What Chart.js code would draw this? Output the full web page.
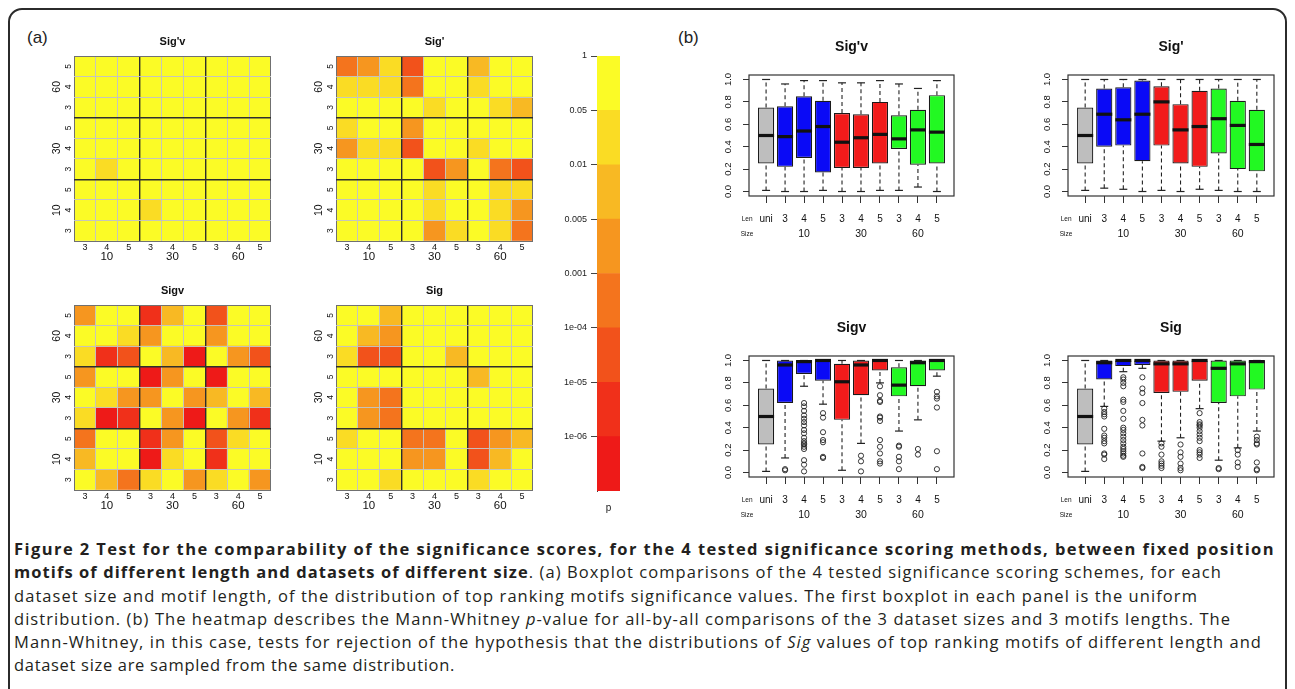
<!DOCTYPE html>
<html>
<head>
<meta charset="utf-8">
<title>Figure 2</title>
<script src="https://cdn.jsdelivr.net/npm/chart.js@4.4.1/dist/chart.umd.min.js"></script>
<style>
  html, body { margin: 0; padding: 0; background: #fff; }
  #page { position: relative; width: 1295px; height: 689px; overflow: hidden; background: #fff; }
  #border { position: absolute; left: 8px; top: 8px; width: 1279px; height: 740px; box-sizing: border-box;
            border: 2px solid #2b2b2b; border-radius: 14px; }
  canvas { position: absolute; }
  .tag { position: absolute; font: 17px 'Liberation Sans', Arial, sans-serif; line-height: 17px; color: #222; }
  #caption { position: absolute; left: 14px; top: 537px; font-family: 'Open Sans', Lato, sans-serif;
             font-size: 16.5px; line-height: 23.3px; color: #231f20; }
  #caption div { white-space: nowrap; width: max-content; }
</style>
</head>
<body>
<div id="page">
  <div id="border"></div>
  <div class="tag" style="left:27px; top:29px;">(a)</div>
  <div class="tag" style="left:678px; top:29px;">(b)</div>

  <canvas id="hm1"></canvas>
  <canvas id="hm2"></canvas>
  <canvas id="hm3"></canvas>
  <canvas id="hm4"></canvas>
  <canvas id="key"></canvas>
  <canvas id="bp1"></canvas>
  <canvas id="bp2"></canvas>
  <canvas id="bp3"></canvas>
  <canvas id="bp4"></canvas>

  <div id="caption">
    <div><b>Figure 2 Test for the comparability of the significance scores, for the 4 tested significance scoring methods, between fixed position</b></div>
    <div><b>motifs of different length and datasets of different size</b>. (a) Boxplot comparisons of the 4 tested significance scoring schemes, for each</div>
    <div>dataset size and motif length, of the distribution of top ranking motifs significance values. The first boxplot in each panel is the uniform</div>
    <div>distribution. (b) The heatmap describes the Mann-Whitney <i>p</i>-value for all-by-all comparisons of the 3 dataset sizes and 3 motifs lengths. The</div>
    <div>Mann-Whitney, in this case, tests for rejection of the hypothesis that the distributions of <i>Sig</i> values of top ranking motifs of different length and</div>
    <div>dataset size are sampled from the same distribution.</div>
  </div>
</div>

<script>
Chart.defaults.font.family = "'Liberation Sans', Arial, Helvetica, sans-serif";
Chart.defaults.color = '#222';

// colour key classes, top (not significant) to bottom
const pBreaks = ['1', '0.05', '0.01', '0.005', '0.001', '1e-04', '1e-05', '1e-06'];
const pColors = ['#FBFB26', '#FADC24', '#F8B923', '#F6961F', '#F4741D', '#F2521B', '#F0301A', '#EE1A18'];

const sizes = ['10', '30', '60'];
const lens = ['3', '4', '5'];

// heatmap cells = index into pColors
// rows from top (size 60 / len 5) down to (10 / 3), columns 10/3 ... 60/5
const hmSigPv = [
  [0, 0, 0, 0, 0, 0, 0, 0, 0],
  [0, 0, 0, 0, 0, 0, 0, 0, 0],
  [0, 0, 0, 0, 0, 0, 0, 0, 0],
  [0, 0, 0, 0, 0, 0, 0, 0, 0],
  [0, 0, 0, 0, 0, 0, 0, 0, 0],
  [0, 1, 0, 0, 0, 0, 0, 0, 0],
  [0, 0, 0, 0, 0, 0, 0, 0, 0],
  [0, 0, 0, 1, 0, 0, 0, 0, 0],
  [0, 0, 0, 0, 0, 0, 0, 0, 0]
];
const hmSigP = [
  [4, 3, 1, 5, 0, 0, 2, 0, 0],
  [1, 1, 1, 4, 0, 0, 1, 0, 0],
  [0, 0, 0, 0, 1, 0, 0, 1, 2],
  [1, 0, 0, 3, 0, 0, 0, 0, 0],
  [3, 1, 1, 5, 0, 0, 1, 0, 0],
  [0, 0, 0, 0, 5, 3, 0, 4, 5],
  [0, 0, 0, 0, 1, 0, 0, 1, 1],
  [0, 0, 0, 0, 1, 0, 0, 1, 3],
  [0, 0, 0, 0, 3, 1, 0, 1, 4]
];
const hmSigV = [
  [3, 0, 0, 6, 2, 0, 5, 0, 0],
  [0, 0, 1, 3, 0, 0, 3, 0, 0],
  [1, 6, 5, 0, 2, 7, 0, 3, 5],
  [3, 0, 0, 7, 3, 0, 7, 0, 0],
  [0, 1, 3, 3, 0, 3, 2, 0, 2],
  [1, 7, 6, 0, 3, 7, 0, 3, 6],
  [4, 0, 0, 6, 3, 0, 5, 1, 0],
  [2, 0, 0, 7, 1, 0, 6, 0, 0],
  [0, 2, 4, 1, 0, 3, 1, 0, 3]
];
const hmSig = [
  [0, 0, 2, 0, 0, 0, 0, 0, 0],
  [0, 2, 3, 0, 0, 0, 0, 0, 0],
  [1, 5, 5, 0, 0, 2, 0, 0, 0],
  [0, 0, 0, 0, 0, 0, 2, 0, 0],
  [0, 3, 4, 0, 0, 0, 0, 0, 0],
  [0, 3, 4, 0, 0, 0, 0, 0, 0],
  [1, 0, 0, 4, 4, 0, 5, 3, 2],
  [0, 0, 0, 3, 3, 0, 5, 2, 0],
  [0, 0, 1, 0, 0, 0, 1, 0, 0]
];

// boxplots
const boxLabels = ['uni', '3', '4', '5', '3', '4', '5', '3', '4', '5'];
const boxSizes = ['10', '30', '60'];
const boxColors = ['#BEBEBE', '#0A0AF6', '#0A0AF6', '#0A0AF6', '#F21B1B', '#F21B1B', '#F21B1B', '#22F922', '#22F922', '#22F922'];
const boxTicks = [0, 0.2, 0.4, 0.6, 0.8, 1.0];

// [lower whisker, Q1, median, Q3, upper whisker]
const bxSigPv = [
  [0.01, 0.25, 0.50, 0.75, 1.00],
  [0.00, 0.22, 0.49, 0.76, 0.96],
  [0.00, 0.30, 0.54, 0.85, 0.99],
  [0.01, 0.17, 0.58, 0.81, 0.99],
  [0.00, 0.21, 0.44, 0.70, 0.97],
  [0.00, 0.21, 0.48, 0.69, 0.97],
  [0.01, 0.25, 0.51, 0.80, 0.99],
  [0.01, 0.38, 0.47, 0.68, 0.96],
  [0.04, 0.24, 0.55, 0.73, 0.92],
  [0.00, 0.25, 0.53, 0.86, 0.99]
];
const outSigPv = [[], [], [], [], [], [], [], [], [], []];

const bxSigP = [
  [0.01, 0.25, 0.50, 0.75, 1.00],
  [0.03, 0.40, 0.69, 0.92, 1.00],
  [0.02, 0.41, 0.64, 0.93, 1.00],
  [0.00, 0.27, 0.69, 0.99, 1.00],
  [0.01, 0.41, 0.80, 0.94, 1.00],
  [0.00, 0.25, 0.55, 0.78, 1.00],
  [0.02, 0.22, 0.58, 0.90, 1.00],
  [0.01, 0.34, 0.65, 0.92, 1.00],
  [0.00, 0.20, 0.59, 0.81, 1.00],
  [0.00, 0.18, 0.42, 0.73, 1.00]
];
const outSigP = [[], [], [], [], [], [], [], [], [], []];

const bxSigV = [
  [0.01, 0.25, 0.50, 0.75, 1.00],
  [0.13, 0.62, 0.96, 1.00, 1.00],
  [0.77, 0.88, 0.99, 1.00, 1.00],
  [0.61, 0.82, 1.00, 1.00, 1.00],
  [0.02, 0.47, 0.81, 0.97, 1.00],
  [0.26, 0.69, 0.96, 1.00, 1.00],
  [0.80, 0.91, 1.00, 1.00, 1.00],
  [0.37, 0.68, 0.78, 0.94, 1.00],
  [0.47, 0.77, 0.98, 1.00, 1.00],
  [0.86, 0.91, 1.00, 1.00, 1.00]
];
const outSigV = [
  [],
  [0.03, 0.02],
  [0.62, 0.59, 0.55, 0.51, 0.48, 0.45, 0.42, 0.38, 0.35, 0.31, 0.28, 0.26, 0.25, 0.23, 0.21, 0.11, 0.07, 0.01],
  [0.53, 0.49, 0.36, 0.29, 0.27, 0.14, 0.13],
  [],
  [0.15, 0.10, 0.01],
  [0.77, 0.69, 0.64, 0.63, 0.50, 0.49, 0.46, 0.29, 0.23, 0.17, 0.10, 0.08],
  [0.24, 0.23, 0.14, 0.10, 0.03],
  [0.21, 0.16],
  [0.72, 0.68, 0.66, 0.58, 0.19, 0.03]
];

const bxSig = [
  [0.01, 0.25, 0.50, 0.75, 1.00],
  [0.59, 0.83, 0.98, 1.00, 1.00],
  [0.90, 0.95, 1.00, 1.00, 1.00],
  [0.93, 0.96, 1.00, 1.00, 1.00],
  [0.28, 0.71, 0.97, 1.00, 1.00],
  [0.31, 0.72, 0.97, 1.00, 1.00],
  [0.57, 0.82, 1.00, 1.00, 1.00],
  [0.11, 0.62, 0.93, 1.00, 1.00],
  [0.22, 0.68, 0.97, 1.00, 1.00],
  [0.37, 0.74, 0.99, 1.00, 1.00]
];
const outSig = [
  [],
  [0.57, 0.54, 0.52, 0.50, 0.39, 0.33, 0.31, 0.28, 0.26, 0.17, 0.16, 0.12],
  [0.85, 0.83, 0.80, 0.77, 0.65, 0.63, 0.55, 0.48, 0.40, 0.38, 0.35, 0.32, 0.29, 0.26, 0.23, 0.21, 0.19, 0.17, 0.15, 0.14],
  [0.85, 0.75, 0.71, 0.62, 0.47, 0.42, 0.17, 0.05, 0.04],
  [0.26, 0.23, 0.16, 0.10, 0.08, 0.06, 0.04],
  [0.25, 0.18, 0.14, 0.08, 0.04, 0.02],
  [0.53, 0.45, 0.43, 0.42, 0.40, 0.37, 0.34, 0.31, 0.28, 0.20, 0.18, 0.16, 0.13],
  [0.04, 0.03],
  [0.20, 0.16, 0.09, 0.05],
  [0.32, 0.29, 0.26, 0.25, 0.09, 0.03, 0.02]
];

// sizes the canvas so the plot area lands where it should on the page
function place(canvas, x, y, w, h) {
  canvas.width = w;
  canvas.height = h;
  canvas.style.left = x + 'px';
  canvas.style.top = y + 'px';
}

// box round the plot region, like R's frame
const framePlugin = {
  id: 'frame',
  afterDatasetsDraw(chart) {
    const { left, top, width, height } = chart.chartArea;
    const ctx = chart.ctx;
    ctx.save();
    ctx.strokeStyle = '#333';
    ctx.lineWidth = 1.2;
    ctx.strokeRect(left, top, width, height);
    ctx.restore();
  }
};

const noHover = { legend: { display: false }, tooltip: { enabled: false } };

function heatmap(id, title, cells, ax, ay) {
  const aw = 197, ah = 185, left = 26, right = 10, titleH = 25, bottom = 30;
  const xH = 10.8, x2H = 16;
  const canvas = document.getElementById(id);
  place(canvas, ax - left, ay - titleH, left + aw + right, titleH + ah + bottom);

  const cols = sizes.flatMap(() => lens);
  const groupCols = cols.map((_, i) => i % 3 === 1 ? sizes[(i - 1) / 3] : '');
  const rowsUp = cells.slice().reverse();
  const n = rowsUp.length;

  const edge = '#707070', dark = '#2e2e2e', light = 'rgba(195,195,195,0.95)';
  const lineCol = i => (i === undefined || i === 0 || i === n) ? edge : (i % 3 === 0 ? dark : light);
  const lineW = i => (i !== undefined && i !== 0 && i !== n && i % 3 === 0) ? 1.4 : 1;

  new Chart(canvas, {
    type: 'bar',
    data: {
      labels: cols,
      datasets: rowsUp.map((row, r) => ({
        label: sizes[Math.floor(r / 3)] + '/' + lens[r % 3],
        data: row.map(() => 1),
        backgroundColor: row.map(k => pColors[k]),
        borderWidth: 0,
        barPercentage: 1,
        categoryPercentage: 1
      }))
    },
    options: {
      responsive: false,
      animation: false,
      events: [],
      layout: { padding: { top: 0, left: 0, right: right, bottom: bottom - xH - x2H }, autoPadding: false },
      plugins: {
        ...noHover,
        title: { display: true, text: title, fullSize: false, color: '#111',
                 font: { size: 11, weight: 'bold' }, padding: { top: 4, bottom: 7.8 } }
      },
      scales: {
        x: {
          stacked: true, offset: true, weight: 1,
          grid: { offset: true, z: 1, drawTicks: false,
                  color: c => lineCol(c.index), lineWidth: c => lineW(c.index) },
          border: { display: false },
          ticks: { autoSkip: false, maxRotation: 0, padding: 1.3, color: '#111', font: { size: 9 } },
          afterFit: s => { s.height = xH; }
        },
        x2: {
          type: 'category', labels: groupCols, position: 'bottom', offset: true, weight: 2,
          grid: { display: false, drawTicks: false },
          border: { display: false },
          ticks: { autoSkip: false, maxRotation: 0, padding: -2, color: '#111', font: { size: 11.5 } },
          afterFit: s => { s.height = x2H; }
        },
        y: {
          stacked: true, min: 0, max: n, weight: 1,
          grid: { z: 1, drawTicks: false,
                  color: c => Number.isInteger(c.tick.value) ? lineCol(c.tick.value) : 'rgba(0,0,0,0)',
                  lineWidth: c => lineW(c.tick.value) },
          border: { display: false },
          afterBuildTicks: s => { s.ticks = Array.from({ length: 2 * n + 1 }, (_, i) => ({ value: i / 2 })); },
          ticks: { minRotation: 90, maxRotation: 90, crossAlign: 'center', padding: 3.4, color: '#111', font: { size: 8.5 },
                   callback: v => Number.isInteger(v) ? '' : lens[Math.floor(v) % 3] },
          afterFit: s => { s.width = 10; }
        },
        y2: {
          type: 'linear', position: 'left', min: 0, max: n, weight: 2,
          grid: { display: false, drawTicks: false },
          border: { display: false },
          afterBuildTicks: s => { s.ticks = sizes.map((_, k) => ({ value: 3 * k + 1.5 })); },
          ticks: { minRotation: 90, maxRotation: 90, crossAlign: 'center', padding: 1, color: '#111', font: { size: 10.5 },
                   callback: (v, i) => sizes[i] },
          afterFit: s => { s.width = 16; }
        }
      }
    }
  });
}

function colourKey(id, ax, ay) {
  const aw = 23, ah = 435, left = 45, right = 8, top = 12, bottom = 30;
  const canvas = document.getElementById(id);
  place(canvas, ax - left, ay - top, left + aw + right, top + ah + bottom);

  new Chart(canvas, {
    type: 'bar',
    data: {
      labels: ['p'],
      datasets: pColors.slice().reverse().map((c, k) => ({
        label: pBreaks[pBreaks.length - 1 - k],
        data: [1],
        backgroundColor: c,
        borderWidth: 0,
        barPercentage: 1,
        categoryPercentage: 1
      }))
    },
    options: {
      responsive: false,
      animation: false,
      events: [],
      layout: { padding: { top: top, left: 0, right: right, bottom: bottom - 26 }, autoPadding: false },
      plugins: noHover,
      scales: {
        x: {
          stacked: true,
          grid: { display: false, drawTicks: false },
          border: { display: false },
          ticks: { padding: 11, font: { size: 10 } },
          afterFit: s => { s.height = 26; }
        },
        y: {
          stacked: true, min: 0, max: pBreaks.length,
          grid: { drawOnChartArea: false, tickLength: 6, color: '#444' },
          border: { display: true, color: '#444', width: 1 },
          afterBuildTicks: s => { s.ticks = pBreaks.map((_, k) => ({ value: k + 1 })); },
          ticks: { padding: 4, font: { size: 9 }, callback: v => pBreaks[pBreaks.length - v] },
          afterFit: s => { s.width = left; }
        }
      }
    }
  });
}

function boxplot(id, title, stats, outliers, ax, ay, aw) {
  const ah = 121, left = 32, right = 8, titleH = 39, bottom = 54;
  const canvas = document.getElementById(id);
  place(canvas, ax - left, ay - titleH, left + aw + right, titleH + ah + bottom);

  const n = stats.length;
  const xs = stats.map((_, i) => i + 1);

  new Chart(canvas, {
    type: 'bar',
    data: {
      datasets: [
        {
          type: 'scatter', label: 'median', order: 0,
          data: stats.map((s, i) => ({ x: xs[i], y: s[2] })),
          pointStyle: 'line', pointRadius: 8, pointBorderWidth: 3.2,
          pointBorderColor: '#111', pointBackgroundColor: '#111'
        },
        {
          type: 'bar', label: 'box', order: 1,
          data: stats.map((s, i) => ({ x: xs[i], y: [s[1], s[3]] })),
          backgroundColor: boxColors, borderColor: '#1a1a1a', borderWidth: 1.2,
          borderSkipped: false, grouped: false, barPercentage: 0.85, categoryPercentage: 1
        },
        {
          type: 'line', label: 'whiskers', order: 2,
          data: stats.flatMap((s, i) => [
            { x: xs[i], y: s[0] }, { x: xs[i], y: s[1] }, { x: xs[i], y: null },
            { x: xs[i], y: s[3] }, { x: xs[i], y: s[4] }, { x: xs[i], y: null }
          ]),
          borderColor: '#222', borderWidth: 1.1, borderDash: [4, 3],
          pointRadius: 0, spanGaps: false, fill: false
        },
        {
          type: 'scatter', label: 'staples', order: 2,
          data: stats.flatMap((s, i) => [{ x: xs[i], y: s[0] }, { x: xs[i], y: s[4] }]),
          pointStyle: 'line', pointRadius: 4, pointBorderWidth: 1.2,
          pointBorderColor: '#222', pointBackgroundColor: '#222'
        },
        {
          type: 'scatter', label: 'outliers', order: 2,
          data: outliers.flatMap((o, i) => o.map(v => ({ x: xs[i], y: v }))),
          pointStyle: 'circle', pointRadius: 2.6, pointBorderWidth: 0.9,
          pointBorderColor: '#222', pointBackgroundColor: 'rgba(255,255,255,0)'
        }
      ]
    },
    options: {
      responsive: false,
      animation: false,
      events: [],
      layout: { padding: { top: 0, left: 0, right: right, bottom: bottom - 50 }, autoPadding: false },
      plugins: {
        ...noHover,
        title: { display: true, text: title, fullSize: false, color: '#111',
                 font: { size: 14, weight: 'bold' }, padding: { top: 3, bottom: 19.2 } }
      },
      scales: {
        x: {
          type: 'linear', min: 0.1, max: n + 0.9, offset: false, weight: 1,
          grid: { offset: false, drawOnChartArea: false, drawTicks: true, tickLength: 7,
                  color: c => c.index === 0 ? 'rgba(0,0,0,0)' : '#333' },
          border: { display: false },
          afterBuildTicks: s => { s.ticks = [0, ...xs].map(v => ({ value: v })); },
          ticks: { autoSkip: false, maxRotation: 0, padding: 10.6, color: '#111',
                   font: c => ({ size: c.index === 0 ? 6.5 : 10, lineHeight: '12px' }),
                   callback: (v, i) => i === 0 ? 'Len' : boxLabels[i - 1] },
          afterFit: s => { s.height = 30; }
        },
        x2: {
          type: 'linear', position: 'bottom', min: 0.1, max: n + 0.9, offset: false, weight: 2,
          grid: { display: false, drawTicks: false },
          border: { display: false },
          afterBuildTicks: s => { s.ticks = [0, ...boxSizes.map((_, k) => 3 * k + 3)].map(v => ({ value: v })); },
          ticks: { autoSkip: false, maxRotation: 0, padding: 2, color: '#111',
                   font: c => ({ size: c.index === 0 ? 6.5 : 10.5, lineHeight: '12px' }),
                   callback: (v, i) => i === 0 ? 'Size' : boxSizes[i - 1] },
          afterFit: s => { s.height = 20; }
        },
        y: {
          type: 'linear', min: -0.04, max: 1.04,
          grid: { drawOnChartArea: false, tickLength: 6, color: '#333' },
          border: { display: false },
          afterBuildTicks: s => { s.ticks = boxTicks.map(v => ({ value: v })); },
          ticks: { minRotation: 90, maxRotation: 90, crossAlign: 'center', padding: 8, color: '#111',
                   font: { size: 9.5 }, callback: v => v.toFixed(1) },
          afterFit: s => { s.width = left; }
        }
      }
    },
    plugins: [framePlugin]
  });
}

heatmap('hm1', "Sig'v", hmSigPv, 74, 56);
heatmap('hm2', "Sig'", hmSigP, 336, 56);
heatmap('hm3', 'Sigv', hmSigV, 74, 305);
heatmap('hm4', 'Sig', hmSig, 336, 305);
colourKey('key', 597, 56);

boxplot('bp1', "Sig'v", bxSigPv, outSigPv, 749, 75, 205);
boxplot('bp2', "Sig'", bxSigP, outSigP, 1068, 75, 206);
boxplot('bp3', 'Sigv', bxSigV, outSigV, 749, 356, 205);
boxplot('bp4', 'Sig', bxSig, outSig, 1068, 356, 206);

// nudge the letter spacing of each caption line so it ends where it does in print
const lineEnds = [1275, 1222, 1198, 1231, 1262, 455];
document.querySelectorAll('#caption > div').forEach((line, i) => {
  const w = line.getBoundingClientRect().width;
  const gap = (lineEnds[i] - 14) - w;
  line.style.letterSpacing = (gap / line.textContent.length) + 'px';
});
</script>
</body>
</html>
